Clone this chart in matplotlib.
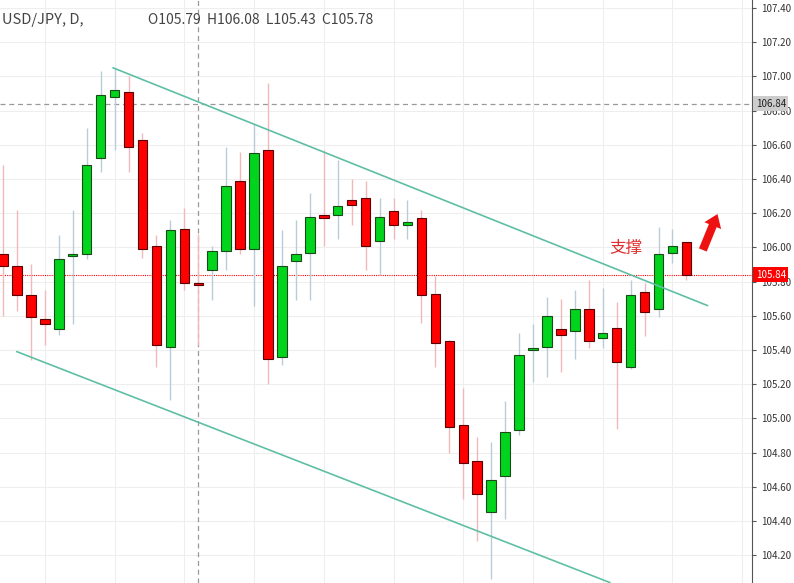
import numpy as np
import matplotlib.pyplot as plt

plt.rcParams['font.family'] = ['Noto Sans CJK SC', 'DejaVu Sans']

# ===================== 数据 =====================
opens = [105.96, 105.89, 105.72, 105.58, 105.52, 105.95, 105.96, 106.52, 106.88, 106.91,
         106.63, 106.01, 105.42, 106.11, 105.79, 105.87, 105.98, 106.39, 105.99, 106.57,
         105.36, 105.92, 105.97, 106.19, 106.19, 106.28, 106.29, 106.04, 106.21, 106.13,
         106.17, 105.73, 105.45, 104.96, 104.75, 104.45, 104.66, 104.93, 105.40, 105.42,
         105.52, 105.51, 105.64, 105.47, 105.53, 105.30, 105.74, 105.64, 105.97, 106.03]
closes = [105.89, 105.72, 105.59, 105.55, 105.93, 105.96, 106.48, 106.89, 106.92, 106.59,
          105.99, 105.43, 106.10, 105.79, 105.78, 105.98, 106.36, 105.99, 106.55, 105.35,
          105.89, 105.96, 106.18, 106.17, 106.24, 106.25, 106.01, 106.18, 106.13, 106.15,
          105.72, 105.44, 104.95, 104.74, 104.56, 104.64, 104.92, 105.37, 105.41, 105.60,
          105.49, 105.64, 105.45, 105.50, 105.33, 105.72, 105.62, 105.96, 106.01, 105.84]
highs = [106.48, 106.22, 105.90, 105.75, 106.07, 106.22, 106.70, 107.03, 107.05, 107.00,
         106.67, 106.07, 106.16, 106.23, 106.08, 106.01, 106.59, 106.56, 106.72, 106.96,
         106.10, 106.16, 106.32, 106.57, 106.51, 106.40, 106.39, 106.29, 106.29, 106.28,
         106.22, 105.83, 105.46, 105.18, 104.89, 104.86, 105.10, 105.50, 105.55, 105.71,
         105.70, 105.75, 105.81, 105.76, 105.68, 105.81, 105.79, 106.12, 106.11, 106.03]
lows = [105.60, 105.63, 105.34, 105.43, 105.49, 105.55, 105.93, 106.44, 106.57, 106.44,
        105.94, 105.30, 105.11, 105.75, 105.43, 105.69, 105.87, 105.96, 105.66, 105.20,
        105.31, 105.69, 105.69, 106.01, 106.05, 106.13, 105.87, 105.84, 106.05, 106.05,
        105.56, 105.30, 104.80, 104.53, 104.28, 104.06, 104.41, 104.90, 105.21, 105.24,
        105.27, 105.35, 105.41, 105.41, 104.94, 105.29, 105.48, 105.59, 105.91, 105.81]
upper_line = [(7.9, 107.05), (50.5, 105.66)]
lower_line = [(1.0, 105.39), (43.5, 104.04)]
y_ticks = [104.20, 104.40, 104.60, 104.80, 105.00, 105.20, 105.40, 105.60,
           105.80, 106.00, 106.20, 106.40, 106.60, 106.80, 107.00, 107.20, 107.40]
last_price = 105.84
cross_price = 106.84
cross_idx = 14
# =================================================

fig = plt.figure(figsize=(7.94, 5.83), dpi=100)
ax = fig.add_axes([0, 0, 752 / 794, 1])

x = np.arange(len(opens))
for i in x:
    o, c, h, l = opens[i], closes[i], highs[i], lows[i]
    up = c >= o
    col = '#00d41c' if up else '#ff0000'
    wick = '#b8cdd8' if up else '#f2b8bc'
    ax.vlines(i, l, h, color=wick, lw=1, zorder=2)
    bot, top = min(o, c), max(o, c)
    ax.bar(i, max(top - bot, 0.012), bottom=bot, width=0.68, color=col,
           edgecolor='#1a4a1a' if up else '#5a0000', lw=0.8, zorder=3)

for ln in (upper_line, lower_line):
    ax.plot([ln[0][0], ln[1][0]], [ln[0][1], ln[1][1]], color='#5fbfa5', lw=1.2, zorder=4)

ax.axhline(last_price, color='#ff0000', ls=(0, (1, 1)), lw=0.8, zorder=1)
ax.axhline(cross_price, color='#999999', ls=(0, (4, 3)), lw=0.9, zorder=1)
ax.axvline(cross_idx, color='#999999', ls=(0, (4, 3)), lw=0.9, zorder=1)

ax.set_xlim(-0.215, 53.7)
ax.set_ylim(104.037, 107.447)
ax.set_yticks(y_ticks)
ax.set_xticks(np.arange(3, 54, 5))
ax.grid(True, color='#eeeeee', lw=0.8)
ax.set_axisbelow(True)
ax.tick_params(axis='x', length=0, labelbottom=False)
ax.yaxis.tick_right()
ax.tick_params(axis='y', length=3, labelsize=7, colors='#555555', labelcolor='#333333')
ax.set_yticklabels([f'{v:.2f}' for v in y_ticks])
for s in ('top', 'left', 'bottom'):
    ax.spines[s].set_visible(False)
ax.spines['right'].set_color('#555555')

ax.text(1.005, (last_price - 104.037) / (107.447 - 104.037), f'{last_price:.2f}',
        transform=ax.transAxes, fontsize=7, color='white', va='center', ha='left',
        bbox=dict(boxstyle='square,pad=0.25', fc='#ff0000', ec='none'))
ax.text(1.005, (cross_price - 104.037) / (107.447 - 104.037), f'{cross_price:.2f}',
        transform=ax.transAxes, fontsize=7, color='#222222', va='center', ha='left',
        bbox=dict(boxstyle='square,pad=0.25', fc='#cccccc', ec='none'))

ax.text(0.002, 0.965, 'USD/JPY, D, ', transform=ax.transAxes, fontsize=10.5,
        color='#444444', va='center')
ax.text(0.197, 0.965, 'O105.79  H106.08  L105.43  C105.78', transform=ax.transAxes,
        fontsize=10, color='#444444', va='center')

ax.text(43.5, 105.97, '支撑', fontsize=12, color='#e03030', zorder=5)
ax.annotate('', xy=(51.3, 106.21), xytext=(50.1, 105.97),
            arrowprops=dict(arrowstyle='simple,head_width=1.3,head_length=0.9,tail_width=0.6',
                            color='#ee1111', lw=0), zorder=5)

fig.savefig('out.png', dpi=100)
